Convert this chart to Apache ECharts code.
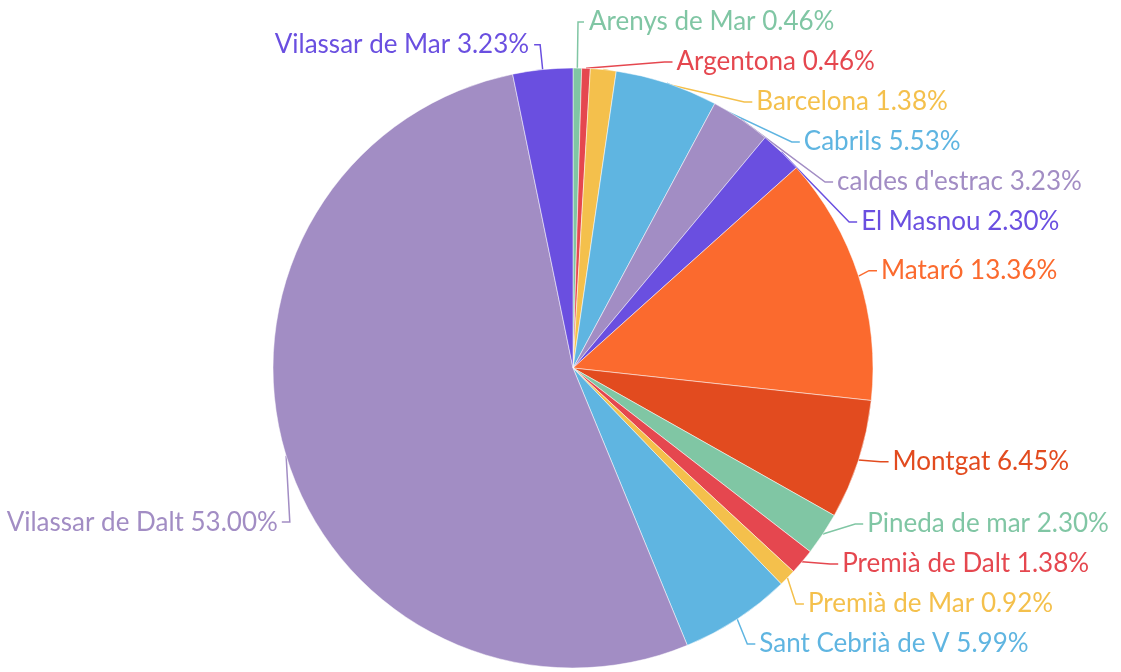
<!DOCTYPE html>
<html><head><meta charset="utf-8">
<script src="https://cdn.jsdelivr.net/npm/echarts@6/dist/echarts.min.js"></script>
<style>html,body{margin:0;padding:0;background:#fff}#c{width:1121px;height:672px}</style>
</head><body><div id="c"></div>
<script>
const categories = ["Arenys de Mar","Argentona","Barcelona","Cabrils","caldes d'estrac","El Masnou","Mataró","Montgat","Pineda de mar","Premià de Dalt","Premià de Mar","Sant Cebrià de V","Vilassar de Dalt","Vilassar de Mar"];
const counts = [1,1,3,12,7,5,29,14,5,3,2,13,115,7];
const palette = ['#80c6a4','#e5474f','#f4c04c','#5fb5e1','#a28dc4','#6a4fe0','#fb6a2e','#e24b1f'];
const total = counts.reduce((a,b)=>a+b,0);

// layout settings
const CX = 573, CY = 368, R0 = 300;
const LABEL_R_TOP = 323, LABEL_R_BOTTOM = 333, TURN_R = 318, LEN2 = 8, GAP = 4;
const lineLen = {0: 46, 13: 25};
const labelShiftY = {7: 12, 12: 62};

function edgePoint(i) {
  let cum = 0;
  for (let k = 0; k < i; k++) cum += counts[k];
  const a = (cum + counts[i] / 2) / total * 2 * Math.PI;
  return [CX + R0 * Math.sin(a), CY - R0 * Math.cos(a)];
}

const chart = echarts.init(document.getElementById('c'));
chart.setOption({
  animation:false,
  color: palette,
  series:[{
    type:'pie',
    left:0, top:0, right:0, bottom:8,
    center:[CX, CY],
    radius:[0, R0],
    startAngle:90,
    data: categories.map((n,i)=>{
      const d = {name:n, value:counts[i]};
      if (lineLen[i] != null) d.labelLine = {length: lineLen[i]};
      return d;
    }),
    itemStyle:{borderColor:'#fff',borderWidth:0.5},
    label:{
      show:true,
      fontFamily:'Lato',
      fontSize:26,
      lineHeight:38,
      overflow:'none',
      color:'inherit',
      formatter: p => p.name + ' ' + (p.value/total*100).toFixed(2) + '%',
      textBorderColor:'#fff', textBorderWidth:2
    },
    labelLine:{length:15,length2:6,lineStyle:{width:1.5}},
    labelLayout: p => {
      const i = p.dataIndex;
      const rect = p.labelRect;
      const y = rect.y + rect.height / 2 + (labelShiftY[i] || 0);
      const dy = Math.abs(y - CY);
      if (dy >= TURN_R) return {};
      const R = y < CY ? LABEL_R_TOP : LABEL_R_BOTTOM;
      const dir = (rect.x + rect.width / 2) > CX ? 1 : -1;
      const D = Math.sqrt(R * R - dy * dy);
      const tx = CX + dir * D;
      const lx = tx - dir * GAP;
      const start = (p.labelLinePoints && p.labelLinePoints[0]) || edgePoint(i);
      return {x: tx, y: y, labelLinePoints: [start, [lx - dir * LEN2, y], [lx, y]]};
    }
  }]
});
</script></body></html>
